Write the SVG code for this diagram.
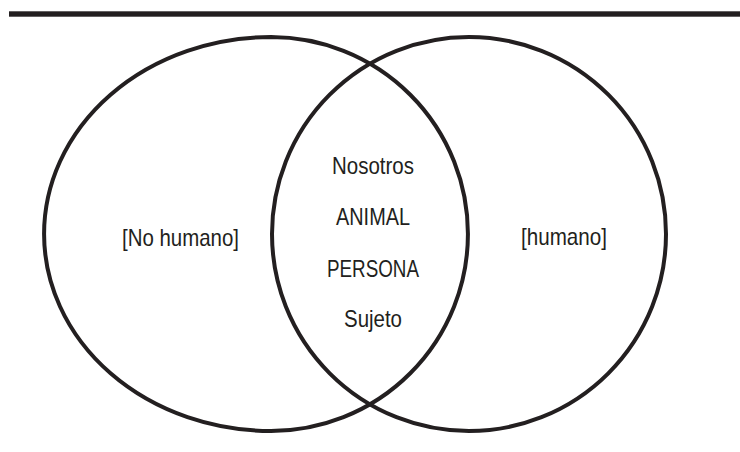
<svg xmlns="http://www.w3.org/2000/svg" width="740" height="452" viewBox="0 0 740 452">
<style>
.ring{fill:none;stroke:#231f20;stroke-width:4}
.t{font-family:"Liberation Sans",Arial,sans-serif;font-size:24px;fill:#231f20;text-anchor:middle}
</style>
<rect x="0" y="0" width="740" height="452" fill="#fff"/>
<rect id="topbar" x="9" y="11.3" width="731" height="5.4" fill="#231f20"/>
<g id="connectors"></g>
<g id="left-set">
<path class="ring" d="M271,37 A197,197 0 0 1 271,431 A227,197 0 0 1 271,37 Z"/>
<text class="t" x="180.5" y="245.5" textLength="117" lengthAdjust="spacingAndGlyphs">[No humano]</text>
</g>
<g id="right-set">
<circle class="ring" cx="469" cy="234" r="197"/>
<text class="t" x="564" y="244.5" textLength="86" lengthAdjust="spacingAndGlyphs">[humano]</text>
</g>
<g id="intersection">
<text class="t" x="373" y="174.3" textLength="82" lengthAdjust="spacingAndGlyphs">Nosotros</text>
<text class="t" x="373" y="225" textLength="74" lengthAdjust="spacingAndGlyphs">ANIMAL</text>
<text class="t" x="373" y="276.7" textLength="92" lengthAdjust="spacingAndGlyphs">PERSONA</text>
<text class="t" x="373" y="326.7" textLength="58" lengthAdjust="spacingAndGlyphs">Sujeto</text>
</g>
</svg>
